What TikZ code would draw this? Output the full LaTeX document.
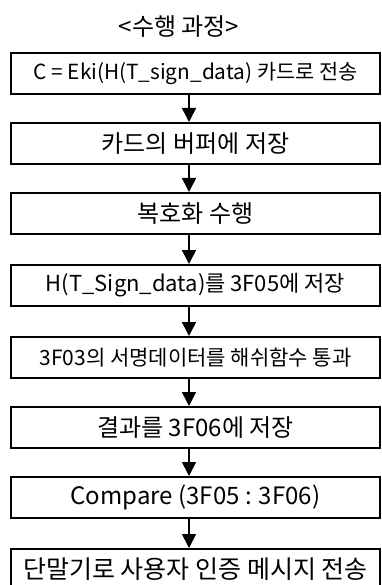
\documentclass[tikz,border=0pt]{standalone}
\usepackage{fontspec}
\setmainfont{Noto Sans CJK KR}
\usetikzlibrary{arrows.meta}
\tikzset{
  stepbox/.style={draw=black, line width=1.8pt, minimum width=369pt, minimum height=41pt,
    inner sep=0pt, font=\fontsize{24}{26}\selectfont, anchor=north},
  fs/.style={font=\fontsize{#1}{#1}\selectfont},
  arr/.style={line width=1.6pt, -{Triangle[width=14pt,length=14pt]}},
}
\begin{document}
\begin{tikzpicture}[x=1pt,y=-1pt]
\clip (0,0) rectangle (381,585);
\fill[white] (0,0) rectangle (381,585);
\node[fs=24] (title) at (179,27) {<수행 과정>};
\coordinate (ax) at (189,0);
\node[stepbox, fs=20.8] (b1) at (195.5,52) {C = Eki(H(T\_sign\_data) 카드로 전송};
\node[stepbox] (b2) at (195.5,122) {카드의 버퍼에 저장};
\node[stepbox] (b3) at (195.5,192) {복호화 수행};
\node[stepbox, fs=22] (b4) at (195.5,264) {H(T\_Sign\_data)를 3F05에 저장};
\node[stepbox, fs=21] (b5) at (195.5,336) {3F03의 서명데이터를 해쉬함수 통과};
\node[stepbox] (b6) at (195.5,406) {결과를 3F06에 저장};
\node[stepbox] (b7) at (195.5,476) {Compare (3F05 : 3F06)};
\node[stepbox, fs=25] (b8) at (195.5,548) {단말기로 사용자 인증 메시지 전송};
\foreach \a/\b in {b1/b2,b2/b3,b3/b4,b4/b5,b5/b6,b6/b7,b7/b8}
  \draw[arr] (\a.south -| ax) -- (\b.north -| ax);
\end{tikzpicture}
\end{document}
